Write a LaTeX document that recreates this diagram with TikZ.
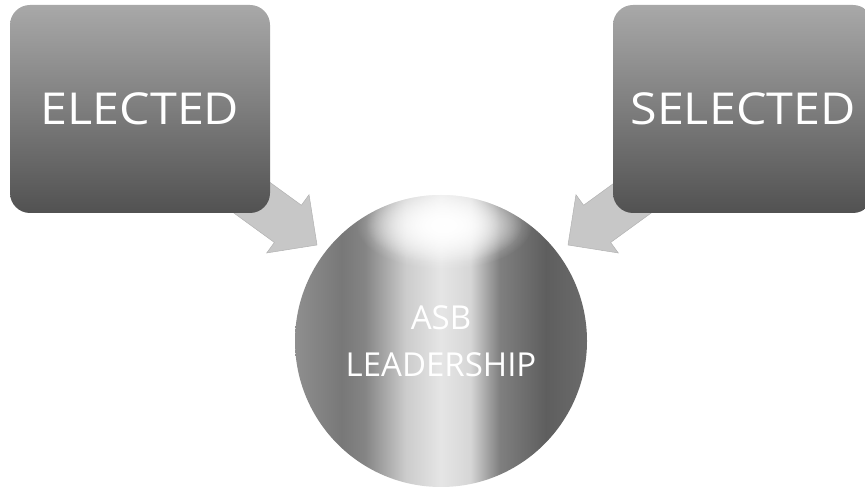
\documentclass[tikz,border=0pt]{standalone}
\usepackage{fontspec}
\setmainfont{Open Sans}
\usetikzlibrary{fadings}
\tikzfading[name=glowfade, inner color=transparent!0, outer color=transparent!100]
\pgfdeclarehorizontalshading{orbshade}{100bp}{%
  color(0bp)=(white!56!black);
  color(25bp)=(white!56!black);
  color(33bp)=(white!47!black);
  color(37bp)=(white!52!black);
  color(44bp)=(white!80!black);
  color(50bp)=(white!90!black);
  color(55bp)=(white!84!black);
  color(60bp)=(white!50!black);
  color(68bp)=(white!37!black);
  color(75bp)=(white!42!black);
  color(100bp)=(white!42!black)}
\tikzset{
  boxnode/.style={rectangle, rounded corners=20pt, minimum width=260pt,
    minimum height=208pt, inner sep=0pt, shade,
    top color=white!66!black, middle color=white!50!black,
    bottom color=white!32!black, text=white,
    font=\fontsize{44}{50}\selectfont},
  orbnode/.style={circle, minimum size=292pt, inner sep=0pt, shade, shading=orbshade},
  orbtext/.style={text=white, align=center, font=\fontsize{33}{47}\selectfont},
  blockarrow/.style={fill=white!78!black, draw=white!70!black, line width=0.5pt}
}
\begin{document}
\begin{tikzpicture}[x=1pt,y=1pt]
\useasboundingbox (0,0) rectangle (865,487);
\clip (0,0) rectangle (865,487);
% arrows (behind the boxes)
\coordinate (ltip) at (317,242);
\coordinate (rtip) at (568,242);
\begin{scope}[shift={(ltip)}, rotate=-36]
  \path[blockarrow] (0,0) -- (-36,36) -- (-36,23) -- (-150,23) -- (-150,-23)
    -- (-36,-23) -- (-36,-36) -- cycle;
\end{scope}
\begin{scope}[shift={(rtip)}, rotate=216]
  \path[blockarrow] (0,0) -- (-36,36) -- (-36,23) -- (-150,23) -- (-150,-23)
    -- (-36,-23) -- (-36,-36) -- cycle;
\end{scope}
% boxes
\node[boxnode] (elected) at (140,378) {\scalebox{1.1}[1]{ELECTED}};
\node[boxnode] (selected) at (743,378) {\scalebox{1.1}[1]{SELECTED}};
% circle
\node[orbnode] (orb) at (441,146) {};
\begin{scope}
  \clip (orb.center) circle [radius=146];
  \fill[white, path fading=glowfade] (444,262) ellipse [x radius=88, y radius=44];
  \fill[white, path fading=glowfade] (444,262) ellipse [x radius=78, y radius=38];
\end{scope}
\node[orbtext] (asb) at (orb.center) {ASB\\LEADERSHIP};
\end{tikzpicture}
\end{document}
